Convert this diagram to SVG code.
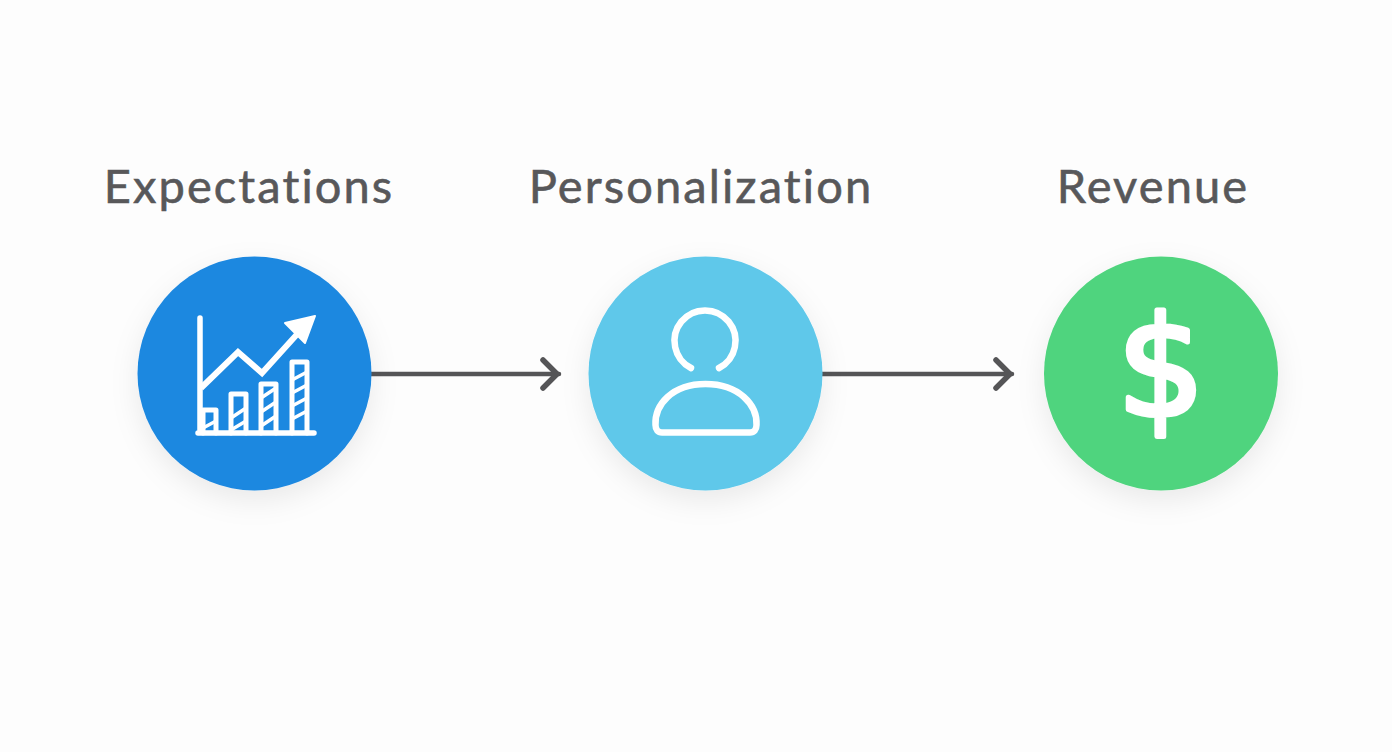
<svg xmlns="http://www.w3.org/2000/svg" width="1392" height="752" viewBox="0 0 1392 752">
<style>
.bg{fill:#fdfdfd}
.label{font-family:"Lato","Liberation Sans",sans-serif;font-size:47px;letter-spacing:2.1px;fill:#58585a;stroke:#58585a;stroke-width:.6px;text-anchor:middle}
.conn{fill:none;stroke:#555557;stroke-width:4.5;stroke-linecap:round}
.head{fill:none;stroke:#555557;stroke-width:5.500;stroke-linecap:round;stroke-linejoin:round}
.ic{fill:none;stroke:#fff;stroke-width:5.500;stroke-linecap:round;stroke-linejoin:round}
.thin{fill:none;stroke:#fff;stroke-width:3.500;stroke-linecap:butt}
.dollar{font-family:"DejaVu Sans",sans-serif;font-size:139px;fill:#fff;stroke:#fff;stroke-width:5px;stroke-linejoin:round;text-anchor:middle}
</style>
<defs>
<filter id="sh" x="-30%" y="-30%" width="160%" height="170%"><feDropShadow dx="0" dy="10" stdDeviation="14" flood-color="#000" flood-opacity="0.08"/></filter>
<marker id="chev" markerUnits="userSpaceOnUse" markerWidth="30" markerHeight="40" viewBox="0 0 30 40" refX="22" refY="20" orient="auto"><path class="head" d="M6 6L20 20L6 34"/></marker>
</defs>
<rect class="bg" width="1392" height="752"/>
<g id="connectors">
<path class="conn" d="M371 374H559" marker-end="url(#chev)"/>
<path class="conn" d="M822 374H1012" marker-end="url(#chev)"/>
</g>
<g id="node-expectations">
<text class="label" x="249" y="203">Expectations</text>
<circle cx="254.500" cy="373.500" r="117" fill="#1e88e0" filter="url(#sh)"/>
<path class="ic" d="M200 318V433M198 433H314"/>
<path d="M201 388L238 352L262 373L300 331" fill="none" stroke="#fff" stroke-width="6"/>
<path d="M315 316L285 323L305 343Z" fill="#fff" stroke="#fff" stroke-width="2" stroke-linejoin="round"/>
<path class="ic" style="stroke-width:5" d="M203 433V410H216V433M231 433V394H246V433M261 433V384H276V433M292 433V362H307V433"/>
<path class="thin" d="M203 428L216 421M231 418L246 408M231 430L246 421M261 398L276 388M261 412L276 402M261 426L276 416M292 380L307 372M292 393L307 385M292 406L307 398M292 419L307 411"/>
</g>
<g id="node-personalization">
<text class="label" x="701" y="203">Personalization</text>
<circle cx="705.500" cy="373.500" r="117" fill="#5ec8ea" filter="url(#sh)"/>
<path class="ic" style="stroke-width:6.500" d="M691 368A30.500 30.500 0 1 1 719 368"/>
<path class="ic" style="stroke-width:6.500" d="M655.500 425C654.500 405 672 384 705.500 384C739 384 757.500 405 756.500 425C756.500 430 754 432.500 750 432.500H662C658 432.500 655.500 430 655.500 425Z"/>
</g>
<g id="node-revenue">
<text class="label" x="1153" y="203">Revenue</text>
<circle cx="1161" cy="373.500" r="117" fill="#50d47e" filter="url(#sh)"/>
<text class="dollar" x="1161" y="416">$</text>
</g>
</svg>
